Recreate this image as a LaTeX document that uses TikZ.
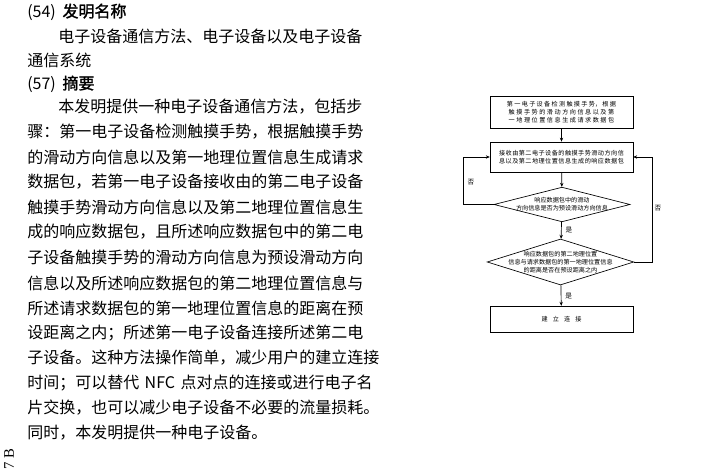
\documentclass[tikz,border=0pt]{standalone}
\usepackage{fontspec}
\setmainfont{Liberation Serif}
\newfontfamily\cjk{Noto Sans CJK SC}
\newfontfamily\cjkb{Noto Sans CJK SC}[FakeBold=1.5]
\usetikzlibrary{shapes.geometric,arrows.meta}
\XeTeXlinebreaklocale "zh"
\XeTeXlinebreakskip=0pt plus 1pt
\begin{document}
\begin{tikzpicture}[x=0.75pt,y=-0.75pt,
  body/.style={anchor=west,inner sep=0,font=\cjk\fontsize{12}{14}\selectfont},
  fbox/.style={draw,line width=0.5pt,minimum width=107pt,inner sep=1pt,align=center,font=\cjk\fontsize{4.6}{6.2}\selectfont,text width=100pt},
  fdia/.style={draw,diamond,line width=0.5pt,inner sep=0},
  ftxt/.style={align=center,font=\cjk\fontsize{4.6}{6.2}\selectfont,inner sep=0},
  arr/.style={-{Stealth[length=3pt,width=2.5pt]},line width=0.5pt},
  lab/.style={font=\cjk\fontsize{5}{6}\selectfont,inner sep=0}]
\useasboundingbox (0,0) rectangle (719,473);
\def\fl#1{\makebox[259pt][s]{#1}}
% left text
\node[body] (h1) at (27,12) {(54)\hspace{5pt}{\cjkb 发明名称}};
\node[body] (t1) at (58,36) {电子设备通信方法、电子设备以及电子设备};
\node[body] (t2) at (27,60) {通信系统};
\node[body] (h2) at (27,84) {(57)\hspace{5pt}{\cjkb 摘要}};
\node[body] (a1) at (58,107) {\makebox[235pt][s]{本发明提供一种电子设备通信方法，包括步}};
\node[body] (a2) at (27,132) {\fl{骤：第一电子设备检测触摸手势，根据触摸手势}};
\node[body] (a3) at (27,157) {\fl{的滑动方向信息以及第一地理位置信息生成请求}};
\node[body] (a4) at (27,182) {\fl{数据包，若第一电子设备接收由的第二电子设备}};
\node[body] (a5) at (27,207) {\fl{触摸手势滑动方向信息以及第二地理位置信息生}};
\node[body] (a6) at (27,232) {\fl{成的响应数据包，且所述响应数据包中的第二电}};
\node[body] (a7) at (27,257) {\fl{子设备触摸手势的滑动方向信息为预设滑动方向}};
\node[body] (a8) at (27,283) {\fl{信息以及所述响应数据包的第二地理位置信息与}};
\node[body] (a9) at (27,308) {\fl{所述请求数据包的第一地理位置信息的距离在预}};
\node[body] (a10) at (27,333) {\fl{设距离之内；所述第一电子设备连接所述第二电}};
\node[body] (a11) at (27,358) {\fl{子设备。这种方法操作简单，减少用户的建立连接}};
\node[body] (a12) at (27,383) {\fl{时间；可以替代 NFC 点对点的连接或进行电子名}};
\node[body] (a13) at (27,408) {\fl{片交换，也可以减少电子设备不必要的流量损耗。}};
\node[body] (a14) at (27,433) {同时，本发明提供一种电子设备。};
\node[rotate=90,anchor=west,inner sep=0,font=\fontsize{11}{11}\selectfont] (side) at (9,470) {7 B};
% flowchart
\node[fbox,minimum height=24pt] (b1) at (561.5,112) {第一电子设备检测触摸手势，根据触摸手势的滑动方向信息以及第一地理位置信息生成请求数据包};
\node[fbox,minimum height=22.5pt] (b2) at (561.5,157) {接收由第二电子设备的触摸手势滑动方向信息以及第二地理位置信息生成的响应数据包};
\node[fdia,minimum width=102pt,minimum height=26pt] (d1) at (562,204.5) {};
\node[ftxt] (d1t) at (d1) {响应数据包中的滑动\\方向信息是否为预设滑动方向信息};
\node[fdia,minimum width=110pt,minimum height=34.5pt] (d2) at (560.5,262) {};
\node[ftxt] (d2t) at (d2) {响应数据包的第二地理位置\\信息与请求数据包的第一地理位置信息\\的距离是否在预设距离之内};
\node[fbox,minimum height=20pt] (b3) at (561.5,319.5) {建立连接};
\coordinate (lc) at (463,204.5);
\coordinate (rc) at (652,262);
\draw[arr] (b1) -- (b2);
\draw[arr] (b2) -- (d1);
\draw[arr] (d1) -- node[lab,right=3pt,pos=0.45] {是} (d2);
\draw[arr] (d2) -- node[lab,right=3pt,pos=0.55] {是} (b3);
\draw[arr] (d1.west) -- (lc) |- (b2.west);
\draw[arr] (d2.east) -- (rc) |- (b2.east);
\node[lab] (n1) at (471,182) {否};
\node[lab] (n2) at (658,208) {否};
\end{tikzpicture}
\end{document}
